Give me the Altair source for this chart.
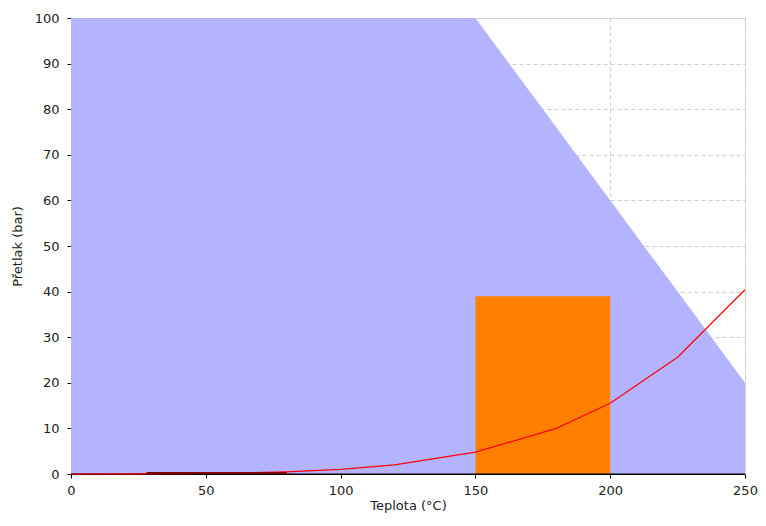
import altair as alt
import pandas as pd

# limit envelope (blue area)
env_t = [0, 150, 250]
env_p = [100, 100, 20]

# orange operating window
win_t0, win_t1 = [150], [200]
win_p0, win_p1 = [0], [39]

# red curve (vapour pressure)
curve_t = [0, 20, 40, 60, 80, 100, 120, 150, 180, 200, 225, 250]
curve_p = [0.0, 0.02, 0.07, 0.2, 0.47, 1.0, 2.0, 4.8, 10.0, 15.5, 25.6, 40.4]

# dark red segment
dark_t = [28, 80]
dark_p = [0.2, 0.2]

env = pd.DataFrame({"t": env_t, "p": env_p})
win = pd.DataFrame({"t0": win_t0, "t1": win_t1, "p0": win_p0, "p1": win_p1})
curve = pd.DataFrame({"t": curve_t, "p": curve_p})
dark = pd.DataFrame({"t": dark_t, "p": dark_p})
base_rule = pd.DataFrame({"t0": [0], "t1": [250], "p": [0]})

xscale = alt.Scale(domain=[0, 250], nice=False, zero=False)
yscale = alt.Scale(domain=[0, 100], nice=False)

common = dict(grid=True, gridDash=[4, 3], gridColor="#cccccc", domainColor="#000000",
              tickColor="#000000", tickSize=4, labelFontSize=13, titleFontSize=13,
              titleFontWeight="normal", labelColor="#222222", titleColor="#222222",
              labelFont="DejaVu Sans", titleFont="DejaVu Sans", labelFlush=False,
              labelOverlap=False)
xaxis = alt.Axis(values=[0, 50, 100, 150, 200, 250], title="Teplota (°C)",
                 labelPadding=6, titlePadding=2, **common)
yaxis = alt.Axis(values=list(range(0, 101, 10)), title="Přetlak (bar)",
                 labelPadding=8, titlePadding=10, **common)

area = alt.Chart(env).mark_area(color="#b3b3ff", opacity=1).encode(
    x=alt.X("t:Q", scale=xscale, axis=xaxis),
    y=alt.Y("p:Q", scale=yscale, axis=yaxis),
)
rect = alt.Chart(win).mark_rect(color="#ff8000").encode(
    x="t0:Q", x2="t1:Q", y="p0:Q", y2="p1:Q"
)
rule = alt.Chart(base_rule).mark_rule(color="#000000", strokeWidth=1).encode(
    x="t0:Q", x2="t1:Q", y="p:Q"
)
line = alt.Chart(curve).mark_line(color="#ff0000", strokeWidth=1.2).encode(
    x="t:Q", y="p:Q"
)
dline = alt.Chart(dark).mark_line(color="#800000", strokeWidth=2).encode(
    x="t:Q", y="p:Q"
)

chart = alt.layer(area, rect, rule, line, dline).properties(
    width=674, height=456,
    autosize=alt.AutoSizeParams(type="none"),
    padding={"left": 63, "top": 10, "right": 13, "bottom": 42},
).configure_view(stroke=None).configure(background="white")

chart.save("out.html", embed_options={"renderer": "svg", "actions": False})
